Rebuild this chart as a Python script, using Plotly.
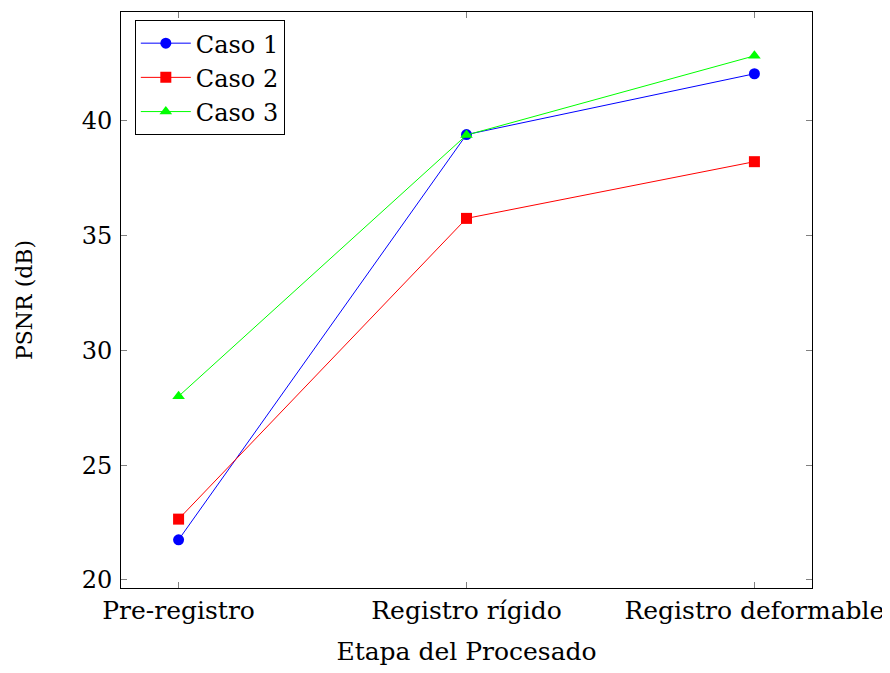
import plotly.graph_objects as go

etapas = ["Pre-registro", "Registro rígido", "Registro deformable"]
caso1 = [21.75, 39.4, 42.05]
caso2 = [22.65, 35.75, 38.22]
caso3 = [28.0, 39.38, 42.83]

FONT = "DejaVu Serif"

fig = go.Figure()
series = [
    ("Caso 1", caso1, "#0000ff", "circle"),
    ("Caso 2", caso2, "#ff0000", "square"),
    ("Caso 3", caso3, "#00ff00", "triangle-up"),
]
xs = list(range(len(etapas)))
for name, vals, col, sym in series:
    fig.add_trace(go.Scatter(
        x=xs, y=vals, name=name, mode="lines+markers",
        line=dict(color=col, width=1),
        marker=dict(color=col, symbol=sym, size=11),
    ))

fig.update_layout(
    width=882, height=665,
    margin=dict(l=113, r=78, t=4, b=85, autoexpand=False),
    paper_bgcolor="white", plot_bgcolor="white",
    font=dict(family=FONT, size=25, color="black"),
    showlegend=True,
    legend=dict(x=0.02, y=0.986, xanchor="left", yanchor="top",
                bordercolor="black", borderwidth=1, bgcolor="white",
                font=dict(size=24), tracegroupgap=0, itemwidth=50),
)
fig.update_xaxes(
    range=[-0.2, 2.2], tickvals=xs, ticktext=etapas,
    showgrid=False, zeroline=False,
    showline=True, linecolor="black", linewidth=1, mirror="ticks",
    ticks="inside", ticklen=6, tickcolor="#808080",
    tickfont=dict(size=25), automargin=False,
    title=dict(text="Etapa del Procesado", standoff=18, font=dict(size=25)),
)
fig.update_yaxes(
    range=[19.65, 44.74], tickvals=[20, 25, 30, 35, 40],
    showgrid=False, zeroline=False,
    showline=True, linecolor="black", linewidth=1, mirror="ticks",
    ticks="inside", ticklen=6, tickcolor="#808080",
    tickfont=dict(size=24), ticklabelstandoff=3, automargin=False,
    title=dict(text="PSNR (dB)", standoff=42, font=dict(size=22)),
)
fig.write_html("out.html")
